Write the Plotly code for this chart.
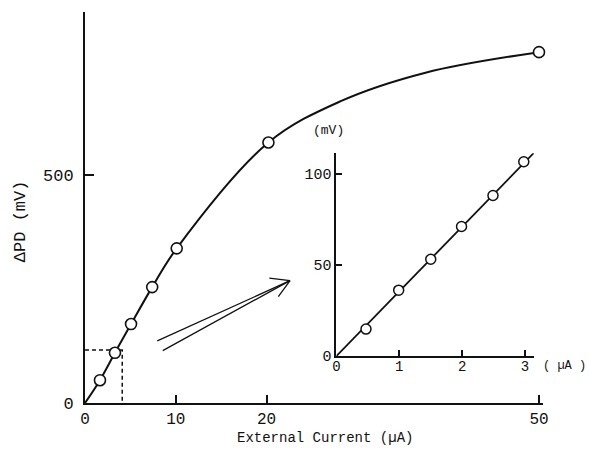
import plotly.graph_objects as go

# ---- data ----
main_x = [1.65, 3.3, 5.07, 7.4, 10.1, 20.2, 50.0]
main_y = [50, 110, 173, 254, 339, 571, 769]
# points
curve_x = [0, 1.65, 3.3, 5.07, 7.4, 10.1, 20.2, 28.1, 37.5, 50.0]
curve_y = [0, 50, 110, 173, 254, 339, 571, 661, 724, 769]
main_xticks = [0, 10, 20, 50]
main_yticks = [0, 500]

inset_x = [0.47, 0.99, 1.5, 1.99, 2.49, 2.98]
inset_y = [14.8, 36.2, 53.2, 71.2, 88.2, 106.8]
fit_x = [0, 3.15]
fit_y = [0, 112]
inset_xticks = [0, 1, 2, 3]
inset_yticks = [0, 50, 100]

box_x = [0, 4.1, 4.1]
box_y = [116, 116, 0]

# decorative double arrow (main-axis data units)
arrow_a = [(7.96, 136), (22.58, 268.2)]
arrow_b = [(8.56, 114.7), (22.58, 268.2)]
head_a = [(20.3, 273.5), (22.58, 268.2)]
head_b = [(21.29, 233.1), (22.58, 268.2)]

FONT = "Liberation Mono"
BLACK = "#111111"

fig = go.Figure()

# main curve
fig.add_trace(go.Scatter(x=curve_x, y=curve_y, mode="lines",
                         line=dict(color=BLACK, width=2, shape="spline", smoothing=1),
                         xaxis="x", yaxis="y", hoverinfo="skip"))
# dashed box
fig.add_trace(go.Scatter(x=box_x, y=box_y, mode="lines",
                         line=dict(color=BLACK, width=1.5, dash="4px,3px"),
                         xaxis="x", yaxis="y"))
fig.add_trace(go.Scatter(x=main_x, y=main_y, mode="markers",
                         marker=dict(symbol="circle", size=11, color="white",
                                     line=dict(color=BLACK, width=1.6)),
                         cliponaxis=False, xaxis="x", yaxis="y"))

# inset
fig.add_trace(go.Scatter(x=fit_x, y=fit_y, mode="lines",
                         line=dict(color=BLACK, width=1.8),
                         xaxis="x2", yaxis="y2"))
fig.add_trace(go.Scatter(x=inset_x, y=inset_y, mode="markers",
                         marker=dict(symbol="circle", size=10, color="white",
                                     line=dict(color=BLACK, width=1.5)),
                         cliponaxis=False, xaxis="x2", yaxis="y2"))

shapes = []
for seg in (arrow_a, arrow_b, head_a, head_b):
    (x0, y0), (x1, y1) = seg
    shapes.append(dict(type="line", xref="x", yref="y", x0=x0, y0=y0, x1=x1, y1=y1,
                       line=dict(color=BLACK, width=1.3)))

axis_common = dict(showgrid=False, zeroline=False, showline=True, linecolor=BLACK,
                   linewidth=2, ticks="inside", tickcolor=BLACK, tickwidth=2)

fig.update_layout(
    width=589, height=455,
    margin=dict(l=85, r=46, t=12, b=52),
    paper_bgcolor="white", plot_bgcolor="white",
    showlegend=False,
    shapes=shapes,
    xaxis=dict(range=[0, 50.44], tickvals=main_xticks, ticklen=8, domain=[0, 1],
               anchor="y", tickfont=dict(family=FONT, size=16, color=BLACK), **axis_common),
    yaxis=dict(range=[0, 857], tickvals=main_yticks, ticklen=9, domain=[0, 1],
               anchor="x", ticklabelstandoff=6,
               tickfont=dict(family=FONT, size=17, color=BLACK), **axis_common),
    xaxis2=dict(range=[0, 3.14], tickvals=inset_xticks, ticklen=6, domain=[0.549, 0.980],
                anchor="y2", ticklabelstandoff=-4,
                tickfont=dict(family=FONT, size=14, color=BLACK), **axis_common),
    yaxis2=dict(range=[0, 111.5], tickvals=inset_yticks, ticklen=6, domain=[0.1202, 0.639],
                anchor="x2", tickfont=dict(family=FONT, size=15, color=BLACK), **axis_common),
    annotations=[
        dict(text="External Current (\u00b5A)", xref="paper", yref="paper",
             x=0.525, y=-0.0895, xanchor="center", yanchor="middle", showarrow=False,
             font=dict(family=FONT, size=14, color=BLACK)),
        dict(text="\u0394PD (mV)", xref="paper", yref="paper", textangle=-90,
             x=-0.142, y=0.465, xanchor="center", yanchor="middle", showarrow=False,
             font=dict(family=FONT, size=17, color=BLACK)),
        dict(text="(mV)", xref="paper", yref="paper",
             x=(328 - 85) / 458, y=(403 - 130) / 391, xanchor="center", yanchor="middle",
             showarrow=False, font=dict(family=FONT, size=13, color=BLACK)),
        dict(text="( \u00b5A )", xref="paper", yref="paper",
             x=(541 - 85) / 458, y=(403 - 366) / 391, xanchor="left", yanchor="middle",
             showarrow=False, font=dict(family=FONT, size=12, color=BLACK)),
    ],
)

fig.write_html("out.html")
